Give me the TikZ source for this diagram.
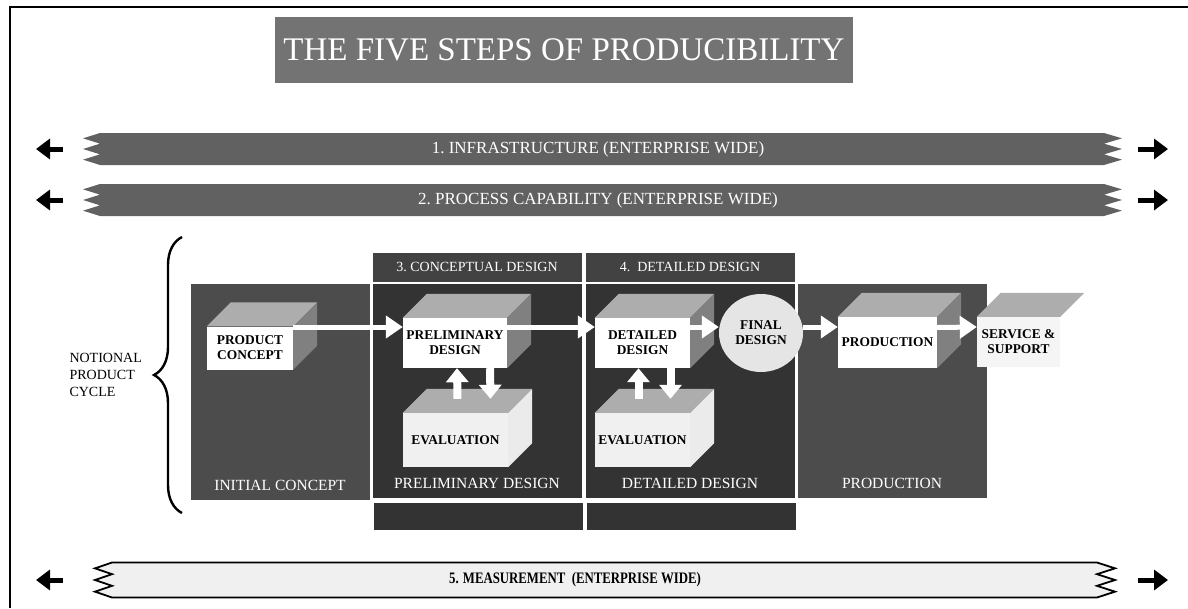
\documentclass[tikz,border=0pt]{standalone}
\usepackage{fontspec}
\setmainfont{Liberation Serif}
\usetikzlibrary{arrows.meta,shapes.geometric,decorations.pathreplacing}
\begin{document}
\begin{tikzpicture}[x=1pt,y=-1pt,
  panel/.style={fill=black!80,draw=white,line width=1pt,inner sep=0pt},
  headbar/.style={fill=black!74,draw=white,line width=1pt,text=white,inner sep=0pt,font=\fontsize{14}{15}\selectfont},
  plabel/.style={text=white,anchor=south,font=\fontsize{15.5}{17}\selectfont},
  front/.style={fill=white,inner sep=0pt,align=center,font=\fontsize{13.4}{15}\selectfont\bfseries},
  topface/.style={fill=black!32},
  sideface/.style={fill=black!50},
  evside/.style={fill=black!8},
  warrow/.style={draw=white,line width=5pt,-{Triangle[length=17pt,width=22pt]}},
  varrow/.style={draw=white,line width=8pt,-{Triangle[length=14pt,width=22pt]}},
  sidearrow/.style={line width=5pt,-{Triangle[length=14pt,width=20pt]}},
  dband/.style={fill=black!62},
  lband/.style={fill=black!6,draw=black,line width=1.8pt},
  bandtext/.style={text=white,font=\fontsize{17}{18}\selectfont}]
\useasboundingbox (0,0) rectangle (1188,608);
%title
\node[fill=black!55,minimum width=578pt,minimum height=66pt,inner sep=0pt,text=white,font=\fontsize{33}{35}\selectfont] (title) at (564,50) {THE FIVE STEPS OF PRODUCIBILITY};
%enterprise wide bands
\foreach \yc/\h/\xa/\xb/\xc/\xd/\sty in {149/32/83/100/1104/1122/dband,200/32/83/100/1104/1122/dband,580/35/95/112/1097/1115/lband}{
  \path[\sty] (\xb,\yc-\h/2) -- (\xa,\yc-\h/3) -- (\xb,\yc-\h/6) -- (\xa,\yc) -- (\xb,\yc+\h/6) -- (\xa,\yc+\h/3) -- (\xb,\yc+\h/2)
    -- (\xc,\yc+\h/2) -- (\xd,\yc+\h/3) -- (\xc,\yc+\h/6) -- (\xd,\yc) -- (\xc,\yc-\h/6) -- (\xd,\yc-\h/3) -- (\xc,\yc-\h/2) -- cycle;
  \path (63,\yc) coordinate (la) (36,\yc) coordinate (lb) (1138,\yc) coordinate (ra) (1168,\yc) coordinate (rb);
  \draw[sidearrow] (la) -- (lb);
  \draw[sidearrow] (ra) -- (rb);
}
\node[bandtext] (b1) at (598,149) {1.\ INFRASTRUCTURE (ENTERPRISE WIDE)};
\node[bandtext] (b2) at (598,200) {2.\ PROCESS CAPABILITY (ENTERPRISE WIDE)};
\node[font=\fontsize{16}{17}\selectfont\bfseries] (b5) at (575,580) {\scalebox{0.8}[1]{5. MEASUREMENT\ \ (ENTERPRISE WIDE)}};
%phase panels
\node[panel,fill=black!70,minimum width=180pt,minimum height=217pt] (ic) at (280,391.5) {};
\node[panel,minimum width=210pt,minimum height=215pt] (prel) at (477,390.5) {};
\node[panel,minimum width=210pt,minimum height=215pt] (det) at (690,390.5) {};
\node[panel,fill=black!70,minimum width=190pt,minimum height=215pt] (prod) at (892,390.5) {};
\node[headbar,minimum width=210pt,minimum height=30pt] (hc) at (477,267) {3.\ CONCEPTUAL DESIGN};
\node[headbar,minimum width=210pt,minimum height=30pt] (hd) at (690,267) {4.\ \ DETAILED DESIGN};
\node[headbar,fill=black!80,minimum width=210pt,minimum height=28pt] (lc) at (478,516) {};
\node[headbar,fill=black!80,minimum width=210pt,minimum height=28pt] (ld) at (691,516) {};
\node[plabel] (icl) at ([yshift=6pt]ic.south) {INITIAL CONCEPT};
\node[plabel] (prell) at ([yshift=6pt]prel.south) {PRELIMINARY DESIGN};
\node[plabel] (detl) at ([yshift=6pt]det.south) {DETAILED DESIGN};
\node[plabel] (prodl) at ([yshift=6pt]prod.south) {PRODUCTION};
%blocks
\node[front,minimum width=86pt,minimum height=43pt] (pc) at (250,348) {PRODUCT\\CONCEPT};
\node[front,minimum width=104pt,minimum height=50pt] (pd) at (455,343) {PRELIMINARY\\DESIGN};
\node[front,fill=black!6,minimum width=105pt,minimum height=54pt] (ev1) at (455.5,440) {EVALUATION};
\node[front,minimum width=95pt,minimum height=50pt] (dd) at (642.5,343) {DETAILED\\DESIGN};
\node[front,fill=black!6,minimum width=95pt,minimum height=54pt] (ev2) at (642.5,440) {EVALUATION};
\node[front,minimum width=99pt,minimum height=51pt] (pr) at (887.5,342.5) {PRODUCTION};
\node[front,fill=black!4,minimum width=83pt,minimum height=50pt] (ss) at (1018.5,342) {SERVICE \&\\SUPPORT};
\foreach \n in {pc,pd,ev1,dd,ev2,pr,ss}
  \fill[topface] (\n.north west) -- ++(24,-24) -- ([shift={(24,-24)}]\n.north east) -- (\n.north east) -- cycle;
\foreach \n/\sty in {pc/sideface,pd/sideface,ev1/evside,dd/sideface,ev2/evside,pr/sideface}
  \fill[\sty] (\n.north east) -- ++(24,-24) -- ([shift={(24,-24)}]\n.south east) -- (\n.south east) -- cycle;
\node[ellipse,fill=black!10,inner sep=0pt,minimum width=84pt,minimum height=78pt,align=center,font=\fontsize{13.4}{15}\selectfont\bfseries] (fd) at (761,333) {FINAL\\DESIGN};
%flow
\draw[warrow] ([yshift=21pt]pc.east) -- ([yshift=16pt]pd.west);
\draw[warrow] ([yshift=16pt]pd.east) -- ([yshift=16pt]dd.west);
\draw[warrow] ([yshift=16pt]dd.east) -- (fd.west |- 0,327);
\draw[warrow] ([yshift=6pt]fd.east) -- (pr.west |- 0,327);
\draw[warrow] ([yshift=15pt]pr.east) -- (ss.west |- 0,327);
\draw[varrow] ([xshift=2pt,yshift=14pt]ev1.north) -- ([xshift=2pt]pd.south);
\draw[varrow] ([xshift=35pt]pd.south) -- ([xshift=35pt,yshift=14pt]ev1.north);
\draw[varrow] ([xshift=-4pt,yshift=14pt]ev2.north) -- ([xshift=-4pt]dd.south);
\draw[varrow] ([xshift=28pt]dd.south) -- ([xshift=28pt,yshift=14pt]ev2.north);
%notional product cycle
\draw[decorate,decoration={brace,amplitude=28pt},line width=2.4pt] (182,513) -- (182,237);
\node[anchor=west,align=left,font=\fontsize{14}{17}\selectfont] (npc) at (66,375) {NOTIONAL\\PRODUCT\\CYCLE};
%frame
\draw[line width=2pt] (10,608) -- (10,7) -- (1188,7);
\end{tikzpicture}
\end{document}
